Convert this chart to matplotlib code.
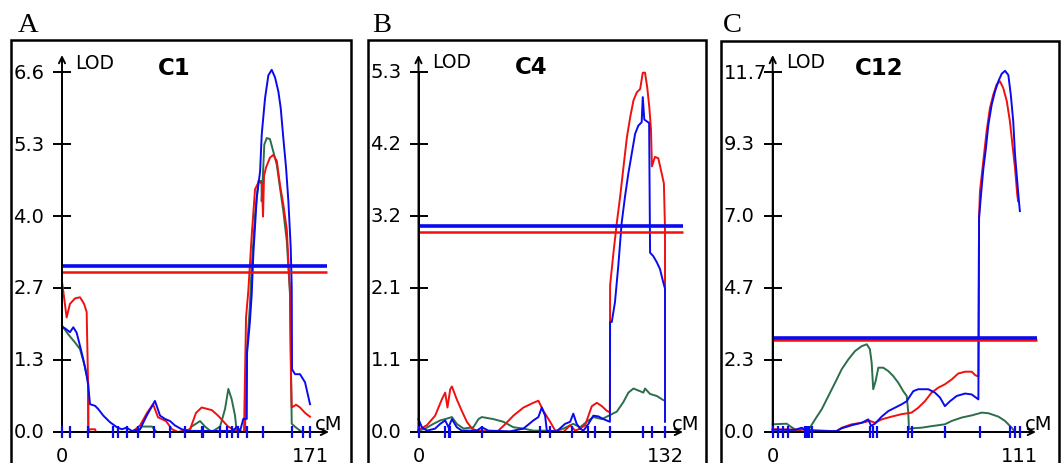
import matplotlib
matplotlib.use("Agg")
import matplotlib.pyplot as plt
import numpy as np
from matplotlib.patches import Rectangle

plt.rcParams['font.family'] = ['DejaVu Sans']

RED = '#f01010'
BLUE = '#0a0af0'
GREEN = '#2b6e4a'

# ---------------- panel A : C1 ----------------
c1_red_cm = [0, 3.2, 5.5, 9.0, 12.4, 15.2, 17.0, 17.9, 18.1, 19.3, 22.8, 23.4, 48.3, 53.8, 58.6,
             62.8, 66.2, 71.7, 75.9, 80.0, 88.3, 92.4, 96.3, 103.4, 107.6, 114.5, 119.3, 125.5,
             126.9, 128.5, 130.8, 133.1, 135.9, 137.9, 138.6, 139.3, 140.7, 143.4, 145.7, 148.1,
             150.3, 152.6, 155.0, 156.1, 157.2, 157.9, 158.4, 161.4, 164.1, 167.6, 171.0]
c1_red_lod = [2.76, 2.1, 2.35, 2.45, 2.47, 2.35, 2.2, 1.0, 0.0, 0.05, 0.05, 0.0, 0.0, 0.12, 0.35,
              0.51, 0.27, 0.2, 0.05, 0.0, 0.05, 0.35, 0.45, 0.4, 0.3, 0.1, 0.03, 0.0,
              2.1, 2.6, 3.6, 4.45, 4.6, 4.55, 3.95, 4.7, 4.85, 5.03, 5.08, 4.97,
              4.53, 4.17, 3.71, 3.13, 2.6, 1.0, 0.45, 0.5, 0.45, 0.35, 0.28]

c1_blue_cm = [0, 0, 2.1, 5.5, 7.8, 10.1, 12.4, 14.7, 17.0, 18.1, 19.3, 22.8, 25.0, 28.5, 33.1,
              37.7, 41.2, 44.6, 48.1, 53.8, 58.4, 64.1, 67.6, 71.0, 74.5, 77.9, 82.6, 87.1, 118.0,
              120.5, 122.8, 125.0, 127.4, 127.6, 129.5, 130.8, 131.9, 134.3, 136.6, 137.7, 140.0,
              142.3, 144.6, 146.9, 149.2, 150.8, 152.6, 154.5, 156.1, 157.7, 158.4, 158.6, 160.7,
              164.1, 167.6, 171.0]
c1_blue_lod = [1.55, 1.93, 1.9, 1.83, 1.92, 1.82, 1.58, 1.33, 1.03, 0.85, 0.51, 0.48, 0.42, 0.3, 0.18,
               0.09, 0.05, 0.08, 0.02, 0.05, 0.3, 0.57, 0.3, 0.24, 0.2, 0.12, 0.05, 0.02, 0.02,
               0.1, 0.02, 0.24, 0.24, 1.45, 2.0, 2.52, 3.25, 4.3, 4.78, 5.45, 6.12,
               6.54, 6.64, 6.5, 6.24, 5.94, 5.39, 4.84, 4.23, 3.38, 2.65, 1.15, 1.06,
               1.06, 0.91, 0.51]

c1_green_cm = [0, 4.3, 9.0, 12.4, 15.9, 18.1, 18.2, 52.6, 55.0, 62.0, 65.3, 87.1, 89.4, 95.2, 98.6,
               103.2, 109.0, 112.4, 114.7, 117.0, 119.3, 120.5, 126.2, 127.5, 129.5, 130.8, 133.1,
               135.4, 137.6, 137.7, 139.5, 141.2, 143.4, 145.7, 148.1, 150.3, 152.6, 155.0, 156.1,
               157.2, 158.4, 161.4, 165.5, 171.0]
c1_green_lod = [1.95, 1.79, 1.64, 1.52, 1.19, 0.91, 0.0, 0.0, 0.1, 0.1, 0.0, 0.0, 0.1, 0.2, 0.1,
                0.0, 0.1, 0.42, 0.79, 0.6, 0.3, 0.0, 0.0, 1.5, 2.3, 3.02, 3.98,
                4.6, 4.6, 4.23, 5.27, 5.39, 5.37, 5.14, 4.9, 4.48, 4.05, 3.5, 3.02,
                2.52, 0.15, 0.08, 0.0, 0.0]

c1_markers = [0, 5.5, 18.1, 35.4, 38.8, 44.6, 52.6, 63.5, 74.5, 85.0, 96.3, 97.5, 109.0, 113.6,
              117.0, 121.6, 127.4, 138.8, 158.4, 166.4, 171.0]
c1_thr_blue = 3.05
c1_thr_red = 2.94
c1_ymax = 6.6
c1_yticklabels = ['0.0', '1.3', '2.7', '4.0', '5.3', '6.6']
c1_xmax = 171

# ---------------- panel B : C4 ----------------
c4_red_cm = [0, 4.5, 8.9, 12.5, 14.3, 15.5, 17.0, 17.9, 20.5, 23.2, 25.9, 28.6, 31.2, 41.9, 45.5,
             50.8, 56.2, 61.5, 64.2, 66.9, 70.5, 73.2, 77.6, 81.2, 83.9, 86.5, 89.2, 92.8, 95.5,
             98.2, 100.9, 102.5, 102.6, 104.4, 106.2, 108.0, 109.8, 111.6, 113.4, 115.1, 116.9,
             118.7, 120.1, 121.3, 122.5, 123.6, 124.5, 125.0, 126.6, 128.4, 129.8, 131.4, 132.0,
             132.0]
c4_red_lod = [0.03, 0.1, 0.24, 0.48, 0.58, 0.36, 0.63, 0.67, 0.48, 0.31, 0.15, 0.05, 0.02, 0.0, 0.09,
              0.24, 0.36, 0.43, 0.46, 0.31, 0.15, 0.02, 0.0, 0.1, 0.02, 0.05, 0.1, 0.38, 0.43,
              0.38, 0.31, 0.29, 2.16, 2.64, 3.08, 3.47, 3.91, 4.34, 4.64, 4.88, 5.0,
              5.05, 5.29, 5.29, 5.07, 4.78, 4.45, 3.91, 4.05, 4.03, 3.86, 3.66, 2.99,
              2.11]

c4_blue_cm = [0, 1.8, 4.5, 8.9, 11.6, 14.3, 16.1, 17.9, 20.5, 23.2, 31.2, 33.9, 37.4, 49.1, 56.2,
              61.5, 64.2, 66.0, 67.8, 68.7, 74.0, 78.5, 81.2, 82.9, 84.7, 86.5, 88.3, 91.0, 93.6,
              96.3, 99.0, 102.5, 102.6, 103.5, 105.2, 107.0, 108.8, 110.6, 112.4, 114.2, 116.0,
              117.7, 119.5, 120.1, 120.9, 123.5, 124.0, 125.7, 127.6, 129.3, 131.1, 132.0, 132.0]
c4_blue_lod = [0.19, 0.07, 0.02, 0.05, 0.12, 0.17, 0.07, 0.19, 0.07, 0.02, 0.02, 0.07, 0.02, 0.01, 0.05,
               0.17, 0.22, 0.36, 0.24, 0.02, 0.01, 0.12, 0.15, 0.27, 0.12, 0.05, 0.02, 0.12, 0.24,
               0.23, 0.19, 0.15, 1.62, 1.62, 1.91, 2.45, 3.08, 3.47, 3.81, 4.1, 4.39,
               4.51, 4.56, 4.93, 4.6, 4.55, 2.64, 2.59, 2.5, 2.4, 2.2, 2.11, 0.15]

c4_green_cm = [0, 3.6, 8.0, 11.6, 14.3, 17.9, 20.5, 24.1, 29.4, 32.1, 33.9, 40.1, 45.5, 50.8, 56.2,
               61.5, 66.9, 72.2, 77.6, 82.9, 86.5, 90.1, 93.6, 98.2, 102.6, 106.2, 109.7, 112.4,
               115.1, 118.7, 120.4, 121.3, 124.0, 127.6, 131.1]
c4_green_lod = [0.02, 0.05, 0.12, 0.17, 0.19, 0.22, 0.12, 0.05, 0.07, 0.19, 0.22, 0.19, 0.15, 0.07, 0.05,
                0.02, 0.02, 0.01, 0.05, 0.12, 0.07, 0.15, 0.22, 0.19, 0.25, 0.3, 0.44, 0.58,
                0.64, 0.6, 0.58, 0.64, 0.56, 0.53, 0.47]

c4_markers = [0, 14.3, 16.1, 17.0, 33.9, 65.1, 70.5, 82.1, 91.0, 94.5, 102.6, 120.4, 124.9, 132.0]
c4_thr_blue = 3.03
c4_thr_red = 2.95
c4_ymax = 5.3
c4_yticklabels = ['0.0', '1.1', '2.1', '3.2', '4.2', '5.3']
c4_xmax = 132

# ---------------- panel C : C12 ----------------
c12_red_cm = [0, 16.0, 26.6, 28.8, 31.1, 35.6, 40.1, 43.8, 46.1, 49.1, 53.6, 58.1, 62.6, 65.6, 68.6,
              71.6, 74.6, 77.6, 80.7, 83.6, 86.7, 89.7, 91.2, 92.7, 93.0, 93.4, 94.9, 96.4, 97.9,
              99.4, 100.9, 102.4, 103.9, 105.5, 106.9, 108.2, 109.2, 110.2, 110.6]
c12_red_lod = [0.09, 0.07, 0.03, 0.03, 0.14, 0.25, 0.3, 0.36, 0.3, 0.41, 0.5, 0.58, 0.63, 0.79, 1.0,
               1.28, 1.44, 1.55, 1.71, 1.9, 1.96, 1.96, 1.85, 1.8, 6.96, 7.82, 8.8, 9.77, 10.53,
               10.96, 11.29, 11.4, 11.18, 10.75, 10.1, 9.23, 8.58, 7.72, 7.5]

c12_blue_cm = [0, 10.0, 13.1, 15.3, 28.8, 31.1, 35.6, 40.1, 43.1, 44.3, 46.1, 49.1, 52.1, 55.1, 58.1,
               60.4, 61.9, 63.4, 65.6, 70.1, 73.1, 75.4, 77.6, 79.9, 82.9, 86.7, 89.7, 92.7, 93.0,
               93.9, 94.9, 96.1, 97.2, 98.7, 100.2, 101.7, 103.2, 104.7, 106.2, 107.3, 108.4, 109.2,
               110.2, 111.1, 111.4]
c12_blue_lod = [0.07, 0.07, 0.14, 0.03, 0.03, 0.12, 0.22, 0.3, 0.41, 0.2, 0.27, 0.5, 0.68, 0.79, 0.9,
                1.0, 1.17, 1.33, 1.39, 1.39, 1.28, 1.12, 0.84, 1.0, 1.17, 1.25, 1.22, 1.06, 6.96,
                7.72, 8.53, 9.23, 9.99, 10.64, 11.07, 11.4, 11.64, 11.74, 11.6, 10.96, 10.1, 9.02,
                8.15, 7.39, 7.18]

c12_green_cm = [0, 6.3, 7.8, 10.0, 11.5, 13.8, 16.0, 19.1, 22.1, 25.1, 28.1, 31.1, 34.1, 37.1, 40.1,
                42.4, 43.8, 44.6, 45.3, 46.4, 47.6, 49.8, 52.1, 54.3, 56.6, 58.8, 60.4, 61.1, 61.4,
                62.6, 67.1, 71.6, 77.6, 80.7, 85.2, 89.7, 94.2, 97.2, 101.7, 104.7, 107.7, 109.2]
c12_green_lod = [0.25, 0.27, 0.19, 0.09, 0.03, 0.11, 0.05, 0.41, 0.74, 1.17, 1.6, 2.04, 2.36, 2.63, 2.79,
                 2.85, 2.69, 2.25, 1.39, 1.66, 2.09, 2.09, 1.98, 1.82, 1.6, 1.33, 1.17, 0.63, 0.09,
                 0.12, 0.14, 0.19, 0.25, 0.36, 0.47, 0.54, 0.63, 0.61, 0.5, 0.36, 0.14, 0.0]

c12_markers = [0, 2.5, 4.8, 7.1, 14.6, 15.5, 16.5, 17.6, 43.8, 45.3, 46.8, 61.1, 62.6, 77.6, 93.4,
               106.9, 109.2, 111.4]
c12_thr_blue = 3.05
c12_thr_red = 2.99
c12_ymax = 11.7
c12_yticklabels = ['0.0', '2.3', '4.7', '7.0', '9.3', '11.7']
c12_xmax = 111

# ---------------- layout (pixels of the 1062x464 picture) ----------------
W, H = 1062, 464
Y0, YTOP, YARROW, BOX_BOTTOM = 433, 73, 56, 470

panels = [
    dict(letter='A', letter_x=18, title='C1', box=(11, 351, 41), px0=62, pxmax=310,
         arrow_end=329, thr_end=327, title_x=158, cm_x=315,
         red=(c1_red_cm, c1_red_lod), blue=(c1_blue_cm, c1_blue_lod), green=(c1_green_cm, c1_green_lod),
         markers=c1_markers, thr=(c1_thr_blue, c1_thr_red), ymax=c1_ymax,
         ylabels=c1_yticklabels, xmax=c1_xmax),
    dict(letter='B', letter_x=372, title='C4', box=(368, 706, 41), px0=418.5, pxmax=665,
         arrow_end=683, thr_end=683, title_x=515, cm_x=672,
         red=(c4_red_cm, c4_red_lod), blue=(c4_blue_cm, c4_blue_lod), green=(c4_green_cm, c4_green_lod),
         markers=c4_markers, thr=(c4_thr_blue, c4_thr_red), ymax=c4_ymax,
         ylabels=c4_yticklabels, xmax=c4_xmax),
    dict(letter='C', letter_x=723, title='C12', box=(721, 1059, 42), px0=772.7, pxmax=1019,
         arrow_end=1036, thr_end=1037, title_x=855, cm_x=1025,
         red=(c12_red_cm, c12_red_lod), blue=(c12_blue_cm, c12_blue_lod), green=(c12_green_cm, c12_green_lod),
         markers=c12_markers, thr=(c12_thr_blue, c12_thr_red), ymax=c12_ymax,
         ylabels=c12_yticklabels, xmax=c12_xmax),
]

fig = plt.figure(figsize=(W / 100, H / 100), dpi=100)

for p in panels:
    L, R, T = p['box']
    s = (p['pxmax'] - p['px0']) / p['xmax']
    t = (Y0 - YTOP) / p['ymax']
    xd = lambda px, s=s, p=p: (px - p['px0']) / s
    yd = lambda py, t=t: (Y0 - py) / t

    ax = fig.add_axes([L / W, (H - BOX_BOTTOM) / H, (R - L) / W, (BOX_BOTTOM - T) / H])
    ax.set_xlim(xd(L), xd(R))
    ax.set_ylim(yd(BOX_BOTTOM), yd(T))
    ax.patch.set_alpha(0)

    # frame of the panel
    ax.add_patch(Rectangle((0, 0), 1, 1, transform=ax.transAxes, fill=False,
                           lw=1.8, ec='black', clip_on=False, zorder=5))

    for side in ['top', 'right']:
        ax.spines[side].set_visible(False)
    ax.spines['left'].set_position(('data', 0))
    ax.spines['bottom'].set_position(('data', 0))
    ax.spines['left'].set_bounds(0, p['ymax'])
    ax.spines['bottom'].set_bounds(0, p['xmax'])
    for side in ['left', 'bottom']:
        ax.spines[side].set_linewidth(1.4)
        ax.spines[side].set_zorder(3)

    arrow = dict(arrowstyle='->', lw=1.4, color='black', shrinkA=0, shrinkB=0, mutation_scale=11)
    ax.annotate('', xy=(0, yd(YARROW)), xytext=(0, 0), arrowprops=arrow, zorder=3)
    ax.annotate('', xy=(xd(p['arrow_end']), 0), xytext=(0, 0), arrowprops=arrow, zorder=3)

    # y ticks with labels left-aligned on the frame
    yt = np.linspace(0, p['ymax'], 6)
    ax.set_yticks(yt)
    ax.set_yticklabels([])
    ax.tick_params(axis='y', direction='inout', length=13, width=1.4)
    for v, lab in zip(yt, p['ylabels']):
        ax.text(xd(L + 2.5), v, lab, ha='left', va='center', fontsize=14)

    ax.set_xticks([0, p['xmax']])
    ax.set_xticklabels(['0', str(p['xmax'])], fontsize=14)
    ax.tick_params(axis='x', length=0, pad=10)

    # curves
    ax.plot(*p['green'], color=GREEN, lw=1.4, zorder=2)
    ax.plot(*p['red'], color=RED, lw=1.4, zorder=2.1)
    ax.plot(*p['blue'], color=BLUE, lw=1.4, zorder=2.2)

    # thresholds
    thr_blue, thr_red = p['thr']
    ax.hlines(thr_red, 0, xd(p['thr_end']), color=RED, lw=1.8, zorder=2.4)
    ax.hlines(thr_blue, 0, xd(p['thr_end']), color=BLUE, lw=2.6, zorder=2.5)

    # markers on the chromosome
    ax.plot(p['markers'], np.zeros(len(p['markers'])), ls='none', marker='|', ms=8, mew=1.6,
            color=BLUE, zorder=4, clip_on=False)

    ax.text(xd(p['px0'] + 13.5), yd(63), 'LOD', ha='left', va='center', fontsize=13.5)
    ax.text(xd(p['title_x']), yd(68), p['title'], ha='left', va='center', fontsize=16.5,
            fontweight='bold')
    ax.text(xd(p['cm_x']), yd(430), 'cM', ha='left', va='baseline', fontsize=14)

    fig.text(p['letter_x'] / W, 1 - 32 / H, p['letter'], family='Liberation Serif',
             fontsize=20.5, va='baseline', ha='left')

fig.savefig('out.png', dpi=100)
